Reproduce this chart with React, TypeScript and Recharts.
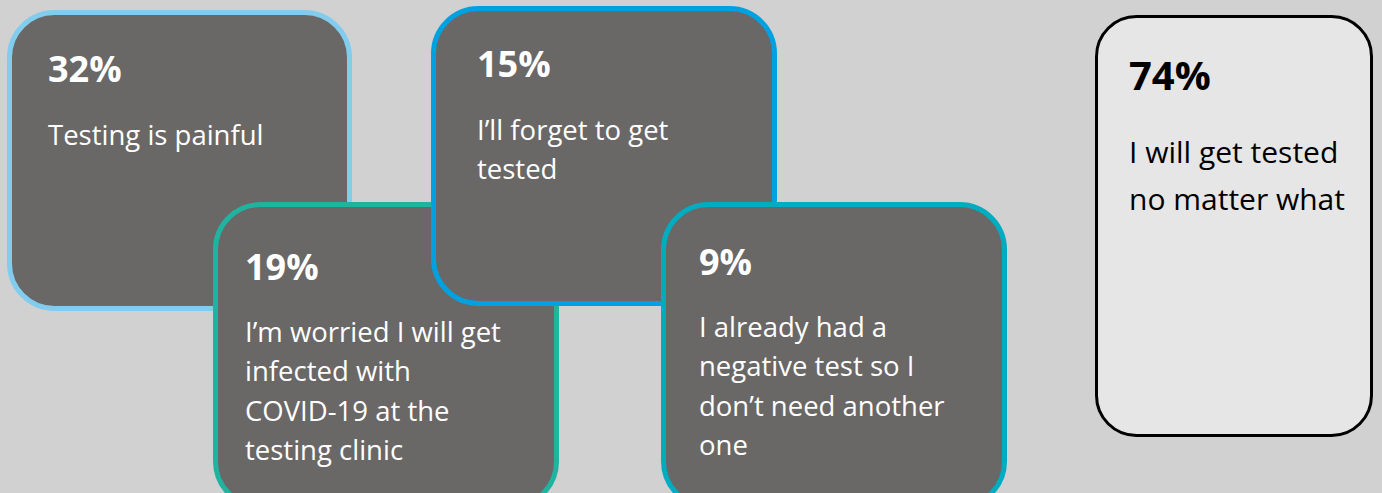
import { BarChart, Bar, XAxis, YAxis } from "recharts";

// survey answers, drawn in this order so later cards sit on top
const reasons = ["painful", "infection", "forget", "negative", "regardless"];
const percents = [32, 19, 15, 9, 74];
const statements = [
  ["Testing is painful"],
  ["I’m worried I will get", "infected with", "COVID-19 at the", "testing clinic"],
  ["I’ll forget to get", "tested"],
  ["I already had a", "negative test so I", "don’t need another", "one"],
  ["I will get tested", "no matter what"],
];

// card placement and styling (px on the 1382x493 canvas)
const cardBoxes = [
  { x: 9.5, y: 12.5, w: 340, h: 296, r: 45, sw: 5, stroke: "#82cdee", fill: "#6a6767", ink: "#ffffff", tx: 41, py: 72, ly: 135, lh: 39.3, pf: 36, lf: 27.5 },
  { x: 215.5, y: 204.5, w: 341, h: 302, r: 45, sw: 5, stroke: "#20b3a0", fill: "#6a6767", ink: "#ffffff", tx: 32, py: 78, ly: 140, lh: 39.3, pf: 36, lf: 27.5 },
  { x: 433.5, y: 8.5, w: 341, h: 295, r: 45, sw: 5, stroke: "#00a1e0", fill: "#6a6767", ink: "#ffffff", tx: 46, py: 71, ly: 134, lh: 39.3, pf: 36, lf: 27.5 },
  { x: 663.5, y: 204.5, w: 341, h: 302, r: 45, sw: 5, stroke: "#00acc0", fill: "#6a6767", ink: "#ffffff", tx: 38, py: 73, ly: 135, lh: 39.3, pf: 36, lf: 27.5 },
  { x: 1096.5, y: 16.5, w: 275, h: 419, r: 40, sw: 3, stroke: "#000000", fill: "#e6e6e6", ink: "#000000", tx: 34, py: 75, ly: 148, lh: 46.7, pf: 40, lf: 30 },
];

const data = reasons.map((key, i) => ({ key, value: percents[i], lines: statements[i] }));

const FONT = "'Open Sans', 'Noto Sans', sans-serif";

function Card(props: any) {
  const { index, payload } = props;
  const b = cardBoxes[index];
  const left = b.x - b.sw / 2;
  const top = b.y - b.sw / 2;
  return (
    <g>
      <rect x={b.x} y={b.y} width={b.w} height={b.h} rx={b.r} ry={b.r} fill={b.fill} stroke={b.stroke} strokeWidth={b.sw} />
      <text x={left + b.tx} y={top + b.py} fill={b.ink} fontFamily={FONT} fontWeight={700} fontSize={b.pf}>
        {payload.value}%
      </text>
      {payload.lines.map((line: string, j: number) => (
        <text key={j} x={left + b.tx} y={top + b.ly + j * b.lh} fill={b.ink} fontFamily={FONT} fontSize={b.lf}>
          {line}
        </text>
      ))}
    </g>
  );
}

export default function App() {
  return (
    <div style={{ position: "fixed", top: 0, left: 0, width: 1382, height: 493, background: "#d1d1d1" }}>
      <BarChart width={1382} height={493} data={data} margin={{ top: 0, right: 0, bottom: 0, left: 0 }}>
        <XAxis dataKey="key" hide />
        <YAxis hide domain={[0, 100]} />
        <Bar dataKey="value" shape={Card} isAnimationActive={false} />
      </BarChart>
    </div>
  );
}
